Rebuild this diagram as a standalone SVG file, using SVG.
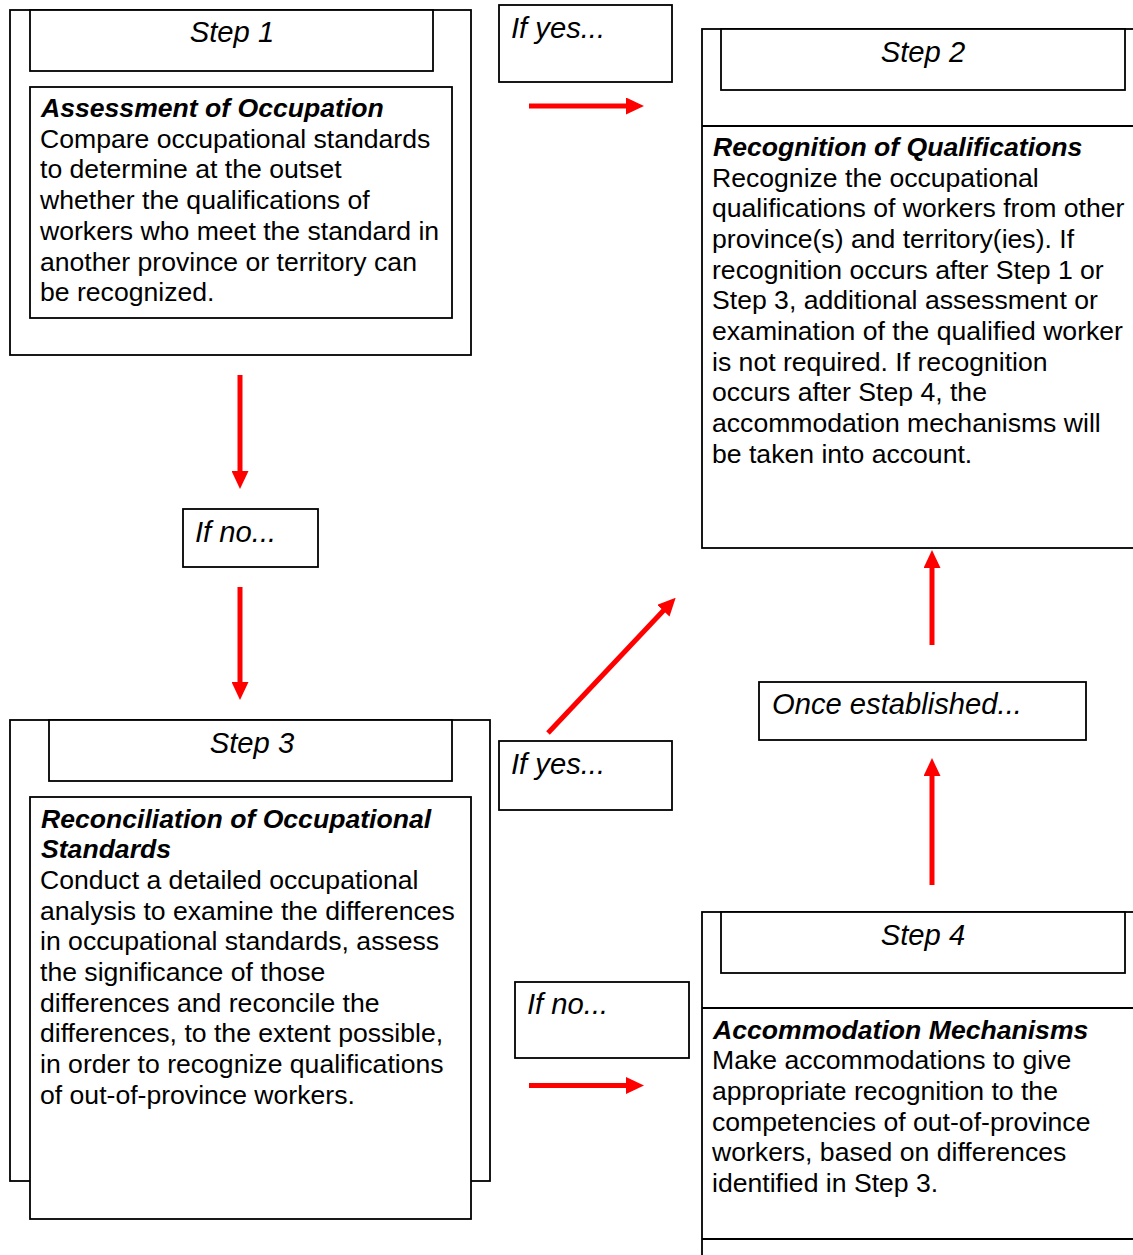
<svg xmlns="http://www.w3.org/2000/svg" width="1133" height="1255" viewBox="0 0 1133 1255">
<style>
.box{fill:#fff;stroke:#000;stroke-width:1.8}
.ln{stroke:#000;stroke-width:1.8;fill:none}
text{font-family:"Liberation Sans",Arial,sans-serif;font-size:26.6px;fill:#000}
.it{font-style:italic;font-size:29.2px}
.hd{font-style:italic;font-weight:bold}
.ttl{font-style:italic;text-anchor:middle;font-size:29.2px}
.arr{stroke:#ff0000;stroke-width:5;fill:none;marker-end:url(#ah)}
</style>
<defs>
<marker id="ah" viewBox="0 0 18 17" refX="2" refY="8.5" markerWidth="18" markerHeight="17" markerUnits="userSpaceOnUse" orient="auto">
<path d="M0,0 L18,8.5 L0,17 z" fill="#ff0000"/>
</marker>
</defs>
<rect width="1133" height="1255" fill="#fff"/>

<g id="step1">
<rect class="box" x="10" y="10" width="461" height="345"/>
<rect class="box" x="30" y="10" width="403" height="61"/>
<text class="ttl" x="232" y="42">Step 1</text>
<rect class="box" x="30" y="87" width="422" height="231"/>
<text x="40" y="116.7"><tspan class="hd" x="41">Assessment of Occupation</tspan><tspan x="40" dy="31">Compare occupational standards</tspan><tspan x="40" dy="30.7">to determine at the outset</tspan><tspan x="40" dy="30.7">whether the qualifications of</tspan><tspan x="40" dy="30.7">workers who meet the standard in</tspan><tspan x="40" dy="30.7">another province or territory can</tspan><tspan x="40" dy="30.7">be recognized.</tspan></text>
</g>

<g id="ifyes1">
<rect class="box" x="499" y="5" width="173" height="77"/>
<text class="it" x="511" y="38">If yes...</text>
</g>

<g id="step2">
<rect class="box" x="702" y="29" width="440" height="519"/>
<line class="ln" x1="702" y1="126" x2="1140" y2="126"/>
<rect class="box" x="721" y="29" width="404" height="61"/>
<text class="ttl" x="923" y="62">Step 2</text>
<text x="712" y="155.7"><tspan class="hd" x="713">Recognition of Qualifications</tspan><tspan x="712" dy="30.8">Recognize the occupational</tspan><tspan x="712" dy="30.7">qualifications of workers from other</tspan><tspan x="712" dy="30.7">province(s) and territory(ies). If</tspan><tspan x="712" dy="30.7">recognition occurs after Step 1 or</tspan><tspan x="712" dy="30.7">Step 3, additional assessment or</tspan><tspan x="712" dy="30.7">examination of the qualified worker</tspan><tspan x="712" dy="30.7">is not required. If recognition</tspan><tspan x="712" dy="30.7">occurs after Step 4, the</tspan><tspan x="712" dy="30.7">accommodation mechanisms will</tspan><tspan x="712" dy="30.7">be taken into account.</tspan></text>
</g>

<g id="ifno1">
<rect class="box" x="183" y="509" width="135" height="58"/>
<text class="it" x="195" y="542">If no...</text>
</g>

<g id="once">
<rect class="box" x="759" y="682" width="327" height="58"/>
<text class="it" x="772" y="714">Once established...</text>
</g>

<g id="step3">
<rect class="box" x="10" y="720" width="480" height="461"/>
<rect class="box" x="49" y="720" width="403" height="61"/>
<text class="ttl" x="252" y="753">Step 3</text>
<rect class="box" x="30" y="797" width="441" height="422"/>
<text x="40" y="827.5"><tspan class="hd" x="41">Reconciliation of Occupational</tspan><tspan class="hd" x="41" dy="30.7">Standards</tspan><tspan x="40" dy="30.7">Conduct a detailed occupational</tspan><tspan x="40" dy="30.7">analysis to examine the differences</tspan><tspan x="40" dy="30.7">in occupational standards, assess</tspan><tspan x="40" dy="30.7">the significance of those</tspan><tspan x="40" dy="30.7">differences and reconcile the</tspan><tspan x="40" dy="30.7">differences, to the extent possible,</tspan><tspan x="40" dy="30.7">in order to recognize qualifications</tspan><tspan x="40" dy="30.7">of out-of-province workers.</tspan></text>
</g>

<g id="ifyes2">
<rect class="box" x="499" y="741" width="173" height="69"/>
<text class="it" x="511" y="774">If yes...</text>
</g>

<g id="ifno2">
<rect class="box" x="515" y="982" width="174" height="76"/>
<text class="it" x="527" y="1014">If no...</text>
</g>

<g id="step4">
<rect class="box" x="702" y="912" width="440" height="360"/>
<line class="ln" x1="702" y1="1008" x2="1140" y2="1008"/>
<line class="ln" x1="702" y1="1239" x2="1140" y2="1239"/>
<rect class="box" x="721" y="912" width="404" height="61"/>
<text class="ttl" x="923" y="945">Step 4</text>
<text x="712" y="1038.5"><tspan class="hd" x="713">Accommodation Mechanisms</tspan><tspan x="712" dy="30.7">Make accommodations to give</tspan><tspan x="712" dy="30.7">appropriate recognition to the</tspan><tspan x="712" dy="30.7">competencies of out-of-province</tspan><tspan x="712" dy="30.7">workers, based on differences</tspan><tspan x="712" dy="30.7">identified in Step 3.</tspan></text>
</g>

<g id="connectors">
<line class="arr" x1="529" y1="106" x2="628" y2="106"/>
<line class="arr" x1="240" y1="375" x2="240" y2="473"/>
<line class="arr" x1="240" y1="587" x2="240" y2="684"/>
<line class="arr" x1="548" y1="733" x2="664.7" y2="609.3"/>
<line class="arr" x1="932" y1="645" x2="932" y2="566"/>
<line class="arr" x1="932" y1="885" x2="932" y2="774"/>
<line class="arr" x1="529" y1="1085.5" x2="628" y2="1085.5"/>
</g>
</svg>
